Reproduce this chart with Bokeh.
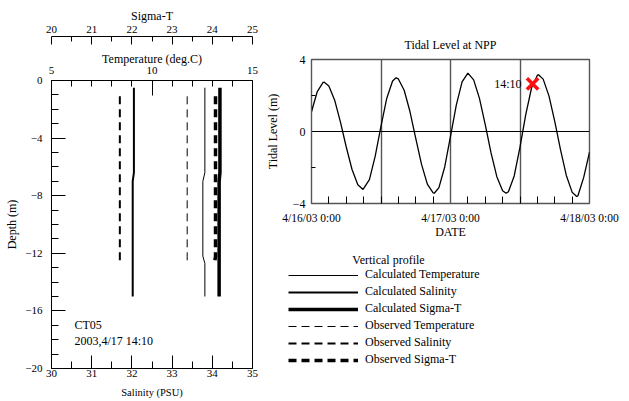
from bokeh.plotting import figure
from bokeh.models import Range1d, LinearAxis, FixedTicker, Label, Legend, LegendItem
from bokeh.layouts import row, column
from bokeh.embed import file_html
from bokeh.resources import INLINE

FONT = "Liberation Serif"

# ---------------- vertical profile data (CT05, 2003/4/17 14:10) ----------------
calc_depth = [-0.5, -6.4, -7.0, -12.2, -12.7, -15.0]
calc_temperature = [12.63, 12.63, 12.53, 12.53, 12.63, 12.63]
calc_salinity = [32.05, 32.05, 32.02, 32.02, 32.02, 32.02]
calc_sigma_t = [24.19, 24.19, 24.17, 24.17, 24.17, 24.17]

obs_depth = [-1.1, -12.2, -12.8]
obs_temperature = [11.75, 11.75, 11.75]
obs_salinity = [31.70, 31.70, 31.70]
obs_sigma_t = [24.08, 24.08, 24.05]

salinity_ticks = [30, 31, 32, 33, 34, 35]
salinity_minor = [30.5, 31.5, 32.5, 33.5, 34.5]
temperature_ticks = [5, 10, 15]
temperature_minor = [6, 7, 8, 9, 11, 12, 13, 14]
sigma_ticks = [20, 21, 22, 23, 24, 25]
sigma_minor = [20.5, 21.5, 22.5, 23.5, 24.5]
depth_ticks = [0, -4, -8, -12, -16, -20]
depth_minor = [-1, -2, -3, -5, -6, -7, -9, -10, -11, -13, -14, -15, -17, -18, -19]

station_name = "CT05"
station_time = "2003,4/17 14:10"

# ---------------- tidal level data (hours from 4/16/03 0:00) ----------------
tide_hours = [0, 1, 2, 2.2, 3, 4, 5, 6, 7, 8, 8.9, 10, 11, 12, 13, 14, 14.6, 15, 16, 17,
              18, 19, 20, 21, 21.2, 22, 23, 24, 25, 26, 27, 28, 29, 30, 31, 32, 33,
              33.6, 34, 35, 36, 37, 38, 39, 39.2, 40, 41, 42, 43, 44, 45, 45.8, 46, 47, 48]
tide_level = [1.10, 2.22, 2.73, 2.74, 2.53, 1.74, 0.52, -0.86, -2.11, -2.96, -3.22, -2.67,
              -1.37, 0.30, 1.85, 2.81, 2.98, 2.92, 2.29, 1.11, -0.38, -1.83, -2.92, -3.41,
              -3.43, -3.12, -1.97, -0.27, 1.47, 2.76, 3.24, 2.87, 1.84, 0.38, -1.19, -2.51,
              -3.29, -3.43, -3.35, -2.47, -0.87, 0.95, 2.43, 3.13, 3.15, 2.91, 1.98, 0.56,
              -1.02, -2.44, -3.37, -3.61, -3.57, -2.55, -1.15]
date_ticks = [0, 24, 48]
date_labels = ["4/16/03 0:00", "4/17/03 0:00", "4/18/03 0:00"]
date_minor = [3, 6, 9, 12, 15, 18, 21, 27, 30, 33, 36, 39, 42, 45]
date_grid = [12, 24, 36]
level_ticks = [-4, 0, 4]
level_minor = [-2, 2]
now_hour = [38.17]
now_level = [2.65]
now_text = "14:10"

legend_title = "Vertical profile"
series_names = ["Calculated Temperature", "Calculated Salinity", "Calculated Sigma-T",
                "Observed Temperature", "Observed Salinity", "Observed Sigma-T"]
series_width = [1, 2, 3.5, 1, 2, 3.5]
series_dash = ["solid", "solid", "solid", "8 5", "8 5", "8 5"]


def style_axis(ax, major_in, minor_in, label_size="11px", title_size="12px"):
    ax.major_tick_in = major_in
    ax.major_tick_out = 0
    ax.minor_tick_in = minor_in
    ax.minor_tick_out = 0
    ax.axis_line_color = "black"
    ax.major_tick_line_color = "black"
    ax.minor_tick_line_color = "black"
    ax.major_label_text_font = FONT
    ax.major_label_text_font_size = label_size
    ax.major_label_text_color = "black"
    ax.axis_label_text_font = FONT
    ax.axis_label_text_font_style = "normal"
    ax.axis_label_text_font_size = title_size
    ax.axis_label_text_color = "black"


# ---------------- left: vertical profile ----------------
p1 = figure(width=262, height=401, x_range=Range1d(30, 35), y_range=Range1d(-20, 0),
            output_backend="svg", toolbar_location=None,
            min_border_left=51, min_border_right=10, min_border_top=80, min_border_bottom=33)
p1.extra_x_ranges = {"temp": Range1d(5, 15), "sigma": Range1d(20, 25)}
p1.grid.visible = False
p1.outline_line_color = "black"

xa = p1.xaxis[0]
xa.ticker = FixedTicker(ticks=salinity_ticks, minor_ticks=salinity_minor)
xa.axis_label = "Salinity (PSU)"
style_axis(xa, 13, 7, "11px", "10.5px")
xa.major_label_standoff = 1
xa.axis_label_standoff = 7

ya = p1.yaxis[0]
ya.ticker = FixedTicker(ticks=depth_ticks, minor_ticks=depth_minor)
ya.axis_label = "Depth (m)"
style_axis(ya, 14, 7, "11px", "12px")
ya.major_label_standoff = 9
ya.axis_label_standoff = 3

t_ax = LinearAxis(x_range_name="temp",
                  ticker=FixedTicker(ticks=temperature_ticks, minor_ticks=temperature_minor),
                  axis_label="Temperature (deg.C)")
style_axis(t_ax, 15, 6, "11px", "12px")
t_ax.major_label_standoff = 7
t_ax.axis_label_standoff = -2
p1.add_layout(t_ax, "above")

spacer = LinearAxis(x_range_name="temp", ticker=FixedTicker(ticks=[]), axis_label=" ")
spacer.axis_line_color = None
spacer.major_tick_line_color = None
spacer.minor_tick_line_color = None
spacer.axis_label_text_font_size = "8px"
spacer.axis_label_standoff = 0
p1.add_layout(spacer, "above")

s_ax = LinearAxis(x_range_name="sigma",
                  ticker=FixedTicker(ticks=sigma_ticks, minor_ticks=sigma_minor),
                  axis_label="Sigma-T")
style_axis(s_ax, 8, 5, "11px", "12px")
s_ax.major_label_standoff = 4
s_ax.axis_label_standoff = 0
p1.add_layout(s_ax, "above")

profiles = [
    (calc_temperature, calc_depth, "temp"),
    (calc_salinity, calc_depth, None),
    (calc_sigma_t, calc_depth, "sigma"),
    (obs_temperature, obs_depth, "temp"),
    (obs_salinity, obs_depth, None),
    (obs_sigma_t, obs_depth, "sigma"),
]
for (xs, ys, rng), w, d in zip(profiles, series_width, series_dash):
    kw = {} if rng is None else {"x_range_name": rng}
    p1.line(xs, ys, line_color="black", line_width=w, line_dash=d, **kw)

p1.add_layout(Label(x=30.57, y=-16.96, text=station_name, text_font=FONT,
                    text_font_size="12px", text_baseline="middle", text_color="black"))
p1.add_layout(Label(x=30.57, y=-18.07, text=station_time, text_font=FONT,
                    text_font_size="12px", text_baseline="middle", text_color="black"))

# ---------------- right: tidal level ----------------
p2 = figure(width=367, height=245, x_range=Range1d(0, 48), y_range=Range1d(-4, 4),
            output_backend="svg", toolbar_location=None, title="Tidal Level at NPP",
            min_border_left=40, min_border_right=40, min_border_top=59, min_border_bottom=42)
p2.title.align = "center"
p2.title.text_font = FONT
p2.title.text_font_style = "normal"
p2.title.text_font_size = "12px"
p2.title.text_color = "black"
p2.title.standoff = 16
p2.outline_line_color = "#555555"
p2.outline_line_width = 1.4

bx = p2.xaxis[0]
bx.ticker = FixedTicker(ticks=date_ticks, minor_ticks=date_minor)
bx.major_label_overrides = dict(zip(date_ticks, date_labels))
bx.axis_label = "DATE"
style_axis(bx, 0, 7, "11.5px", "12px")
bx.axis_line_color = "#555555"
bx.major_label_standoff = 8
bx.axis_label_standoff = -2

ly = p2.yaxis[0]
ly.ticker = FixedTicker(ticks=level_ticks, minor_ticks=level_minor)
ly.axis_label = "Tidal Level (m)"
style_axis(ly, 0, 4, "12px", "12px")
ly.axis_line_color = "#555555"
ly.major_label_standoff = 6
ly.axis_label_standoff = 10

p2.xgrid.ticker = FixedTicker(ticks=date_grid)
p2.xgrid.grid_line_color = "#555555"
p2.xgrid.grid_line_width = 1.4
p2.ygrid.ticker = FixedTicker(ticks=[0])
p2.ygrid.grid_line_color = "black"
p2.ygrid.grid_line_width = 1

p2.line(tide_hours, tide_level, line_color="black", line_width=1.3)
p2.scatter(now_hour, now_level, marker="x", size=16, line_color="#ff1010", line_width=3.5)
p2.add_layout(Label(x=now_hour[0], y=now_level[0], text=now_text, x_offset=-11,
                    text_align="right", text_baseline="middle", text_font=FONT,
                    text_font_size="12px", text_color="black"))

# ---------------- legend panel ----------------
# swatch renderers reuse the profile series, which lie outside this panel's 0..1 ranges
p3 = figure(width=367, height=156, x_range=Range1d(0, 1), y_range=Range1d(0, 1),
            x_axis_type=None, y_axis_type=None, output_backend="svg", toolbar_location=None,
            min_border=0)
p3.outline_line_color = None
items = []
for name, (xs, ys, rng), w, d in zip(series_names, profiles, series_width, series_dash):
    r = p3.line(xs, ys, line_color="black", line_width=w, line_dash=d)
    items.append(LegendItem(label=name, renderers=[r]))
legend = Legend(items=items, location=(26, 34), glyph_width=70, glyph_height=14,
                label_height=14, label_standoff=7, spacing=2, padding=0, margin=0,
                border_line_color=None, background_fill_alpha=0,
                label_text_font=FONT, label_text_font_size="12px", label_text_color="black")
p3.add_layout(legend)
p3.add_layout(Label(x=126, y=142, x_units="screen", y_units="screen", text=legend_title,
                    text_align="center", text_baseline="middle", text_font=FONT,
                    text_font_size="12px", text_color="black"))

layout = row(p1, column(p2, row(p3)))
open("out.html", "w").write(file_html(layout, INLINE))
